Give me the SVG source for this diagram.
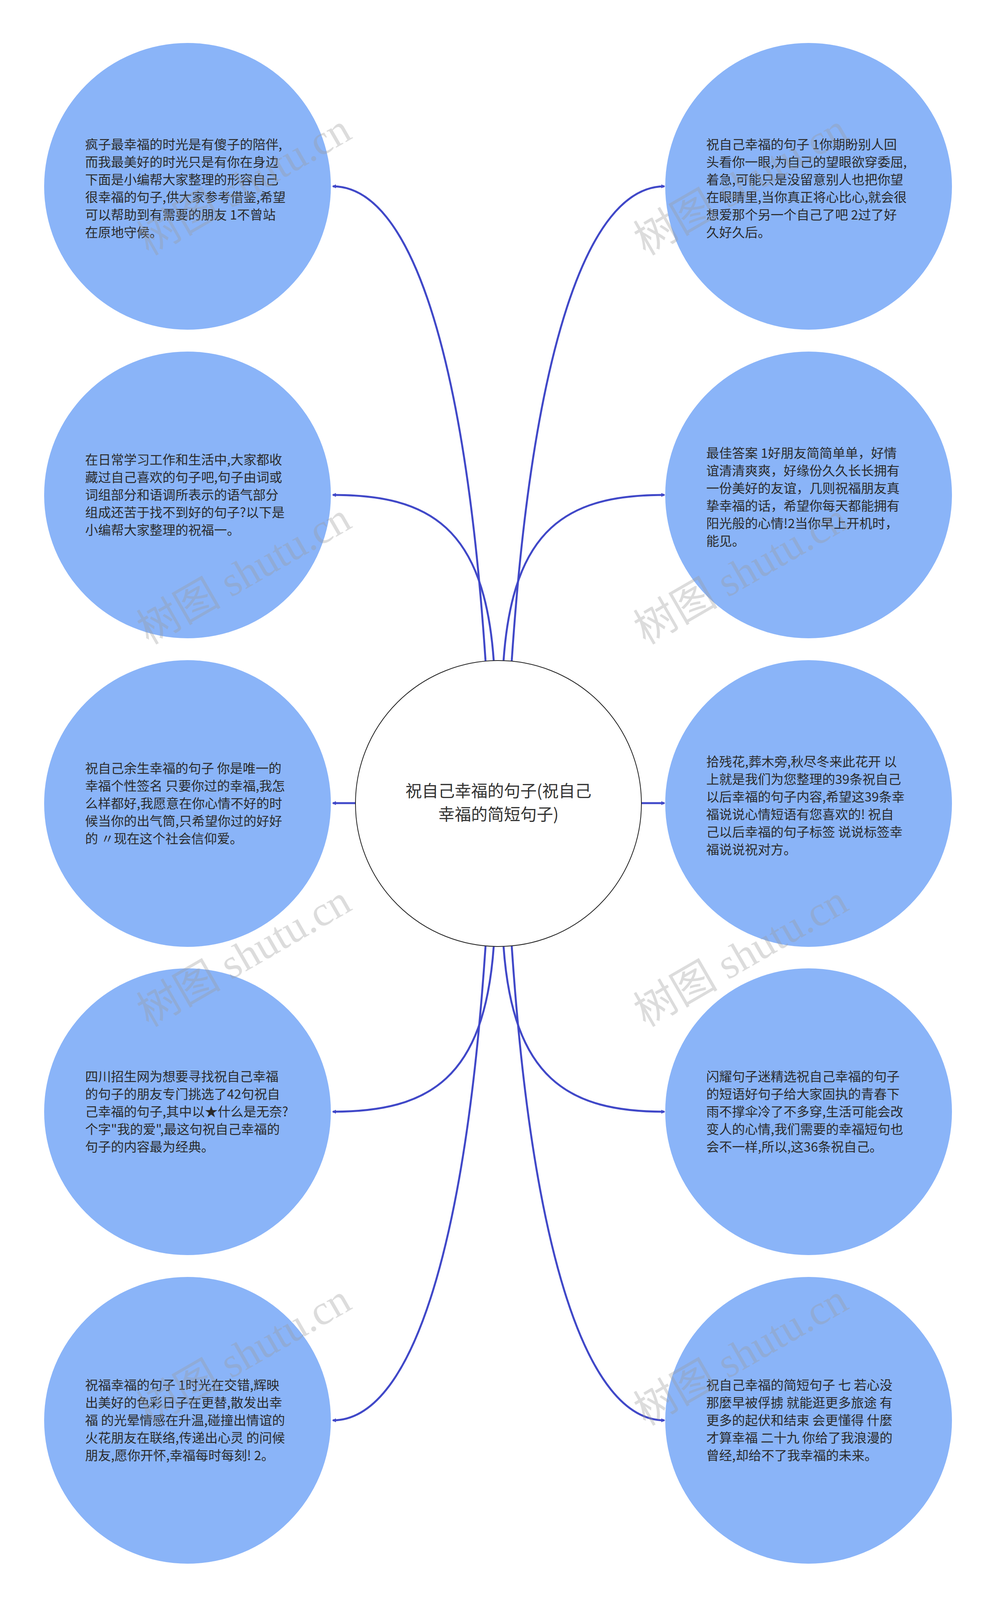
<svg xmlns="http://www.w3.org/2000/svg" width="2560" height="4124" viewBox="0 0 2560 4124">
<style>
.n{fill:#8ab4f8;stroke:none}
.t{font-family:"Noto Sans CJK SC","Noto Sans",sans-serif;font-size:33px;fill:#2b2b2b}
.c{fill:none;stroke:#4048c8;stroke-width:5}
.wm{font-family:"Liberation Serif","Noto Sans CJK SC",serif;font-size:108px;fill:#9a9a9a;fill-opacity:0.35}
</style>
<defs><marker id="a" markerWidth="10" markerHeight="10" refX="8" refY="5" orient="auto" markerUnits="userSpaceOnUse" viewBox="0 0 10 10"><path d="M0,0 L10,5 L0,10 z" fill="#4048c8"/></marker></defs>
<rect width="2560" height="4124" fill="#fff"/>
<g id="connectors">
<path class="c" marker-end="url(#a)" d="M1243,1692 C1190,900 1050,477 852,477"/>
<path class="c" marker-end="url(#a)" d="M1264,1692 C1240,1350 1100,1267 852,1267"/>
<path class="c" marker-end="url(#a)" d="M910,2056 L852,2056"/>
<path class="c" marker-end="url(#a)" d="M1264,2422 C1240,2760 1100,2846 852,2846"/>
<path class="c" marker-end="url(#a)" d="M1243,2422 C1190,3210 1050,3636 852,3636"/>
<path class="c" marker-end="url(#a)" d="M1310,1692 C1363,900 1503,477 1701,477"/>
<path class="c" marker-end="url(#a)" d="M1289,1692 C1313,1350 1453,1267 1701,1267"/>
<path class="c" marker-end="url(#a)" d="M1642,2056 L1701,2056"/>
<path class="c" marker-end="url(#a)" d="M1289,2422 C1313,2760 1453,2846 1701,2846"/>
<path class="c" marker-end="url(#a)" d="M1310,2422 C1363,3210 1503,3636 1701,3636"/>
</g>
<g id="center"><circle cx="1276" cy="2057" r="366" fill="#fff" stroke="#222" stroke-width="2"/>
<text x="1276" y="2040" text-anchor="middle" font-family="Noto Sans CJK SC,sans-serif" font-size="42" fill="#333">祝自己幸福的句子(祝自己</text>
<text x="1276" y="2100" text-anchor="middle" font-family="Noto Sans CJK SC,sans-serif" font-size="42" fill="#333">幸福的简短句子)</text></g>
<g id="n1"><circle class="n" cx="480" cy="477" r="367"/><text class="t"><tspan x="218" y="382">疯子最幸福的时光是有傻子的陪伴,</tspan><tspan x="218" y="427">而我最美好的时光只是有你在身边</tspan><tspan x="218" y="472">下面是小编帮大家整理的形容自己</tspan><tspan x="218" y="517">很幸福的句子,供大家参考借鉴,希望</tspan><tspan x="218" y="562">可以帮助到有需要的朋友 1不曾站</tspan><tspan x="218" y="607">在原地守候。</tspan></text></g>
<g id="n2"><circle class="n" cx="480" cy="1267" r="367"/><text class="t"><tspan x="218" y="1189">在日常学习工作和生活中,大家都收</tspan><tspan x="218" y="1234">藏过自己喜欢的句子吧,句子由词或</tspan><tspan x="218" y="1279">词组部分和语调所表示的语气部分</tspan><tspan x="218" y="1324">组成还苦于找不到好的句子?以下是</tspan><tspan x="218" y="1369">小编帮大家整理的祝福一。</tspan></text></g>
<g id="n3"><circle class="n" cx="480" cy="2057" r="367"/><text class="t"><tspan x="218" y="1979">祝自己余生幸福的句子 你是唯一的</tspan><tspan x="218" y="2024">幸福个性签名 只要你过的幸福,我怎</tspan><tspan x="218" y="2069">么样都好,我愿意在你心情不好的时</tspan><tspan x="218" y="2114">候当你的出气筒,只希望你过的好好</tspan><tspan x="218" y="2159">的 〃现在这个社会信仰爱。</tspan></text></g>
<g id="n4"><circle class="n" cx="480" cy="2846" r="367"/><text class="t"><tspan x="218" y="2768">四川招生网为想要寻找祝自己幸福</tspan><tspan x="218" y="2813">的句子的朋友专门挑选了42句祝自</tspan><tspan x="218" y="2858">己幸福的句子,其中以★什么是无奈?</tspan><tspan x="218" y="2903">个字"我的爱",最这句祝自己幸福的</tspan><tspan x="218" y="2948">句子的内容最为经典。</tspan></text></g>
<g id="n5"><circle class="n" cx="480" cy="3636" r="367"/><text class="t"><tspan x="218" y="3558">祝福幸福的句子 1时光在交错,辉映</tspan><tspan x="218" y="3603">出美好的色彩日子在更替,散发出幸</tspan><tspan x="218" y="3648">福 的光晕情感在升温,碰撞出情谊的</tspan><tspan x="218" y="3693">火花朋友在联络,传递出心灵 的问候</tspan><tspan x="218" y="3738">朋友,愿你开怀,幸福每时每刻! 2。</tspan></text></g>
<g id="n6"><circle class="n" cx="2070" cy="477" r="367"/><text class="t"><tspan x="1808" y="382">祝自己幸福的句子 1你期盼别人回</tspan><tspan x="1808" y="427">头看你一眼,为自己的望眼欲穿委屈,</tspan><tspan x="1808" y="472">着急,可能只是没留意别人也把你望</tspan><tspan x="1808" y="517">在眼睛里,当你真正将心比心,就会很</tspan><tspan x="1808" y="562">想爱那个另一个自己了吧 2过了好</tspan><tspan x="1808" y="607">久好久后。</tspan></text></g>
<g id="n7"><circle class="n" cx="2070" cy="1267" r="367"/><text class="t"><tspan x="1808" y="1172">最佳答案 1好朋友简简单单，好情</tspan><tspan x="1808" y="1217">谊清清爽爽，好缘份久久长长拥有</tspan><tspan x="1808" y="1262">一份美好的友谊，几则祝福朋友真</tspan><tspan x="1808" y="1307">挚幸福的话，希望你每天都能拥有</tspan><tspan x="1808" y="1352">阳光般的心情!2当你早上开机时，</tspan><tspan x="1808" y="1397">能见。</tspan></text></g>
<g id="n8"><circle class="n" cx="2070" cy="2057" r="367"/><text class="t"><tspan x="1808" y="1962">拾残花,葬木旁,秋尽冬来此花开 以</tspan><tspan x="1808" y="2007">上就是我们为您整理的39条祝自己</tspan><tspan x="1808" y="2052">以后幸福的句子内容,希望这39条幸</tspan><tspan x="1808" y="2097">福说说心情短语有您喜欢的! 祝自</tspan><tspan x="1808" y="2142">己以后幸福的句子标签 说说标签幸</tspan><tspan x="1808" y="2187">福说说祝对方。</tspan></text></g>
<g id="n9"><circle class="n" cx="2070" cy="2846" r="367"/><text class="t"><tspan x="1808" y="2768">闪耀句子迷精选祝自己幸福的句子</tspan><tspan x="1808" y="2813">的短语好句子给大家固执的青春下</tspan><tspan x="1808" y="2858">雨不撑伞冷了不多穿,生活可能会改</tspan><tspan x="1808" y="2903">变人的心情,我们需要的幸福短句也</tspan><tspan x="1808" y="2948">会不一样,所以,这36条祝自己。</tspan></text></g>
<g id="n10"><circle class="n" cx="2070" cy="3636" r="367"/><text class="t"><tspan x="1808" y="3558">祝自己幸福的简短句子 七 若心没</tspan><tspan x="1808" y="3603">那麼早被俘掳 就能逛更多旅途 有</tspan><tspan x="1808" y="3648">更多的起伏和结束 会更懂得 什麼</tspan><tspan x="1808" y="3693">才算幸福 二十九 你给了我浪漫的</tspan><tspan x="1808" y="3738">曾经,却给不了我幸福的未来。</tspan></text></g>
<g id="watermarks">
<text class="wm" x="643" y="504" text-anchor="middle" transform="rotate(-30 643 504)">树图 shutu.cn</text>
<text class="wm" x="643" y="1500" text-anchor="middle" transform="rotate(-30 643 1500)">树图 shutu.cn</text>
<text class="wm" x="643" y="2479" text-anchor="middle" transform="rotate(-30 643 2479)">树图 shutu.cn</text>
<text class="wm" x="643" y="3500" text-anchor="middle" transform="rotate(-30 643 3500)">树图 shutu.cn</text>
<text class="wm" x="1915" y="504" text-anchor="middle" transform="rotate(-30 1915 504)">树图 shutu.cn</text>
<text class="wm" x="1915" y="1500" text-anchor="middle" transform="rotate(-30 1915 1500)">树图 shutu.cn</text>
<text class="wm" x="1915" y="2479" text-anchor="middle" transform="rotate(-30 1915 2479)">树图 shutu.cn</text>
<text class="wm" x="1915" y="3500" text-anchor="middle" transform="rotate(-30 1915 3500)">树图 shutu.cn</text>
</g>
</svg>
